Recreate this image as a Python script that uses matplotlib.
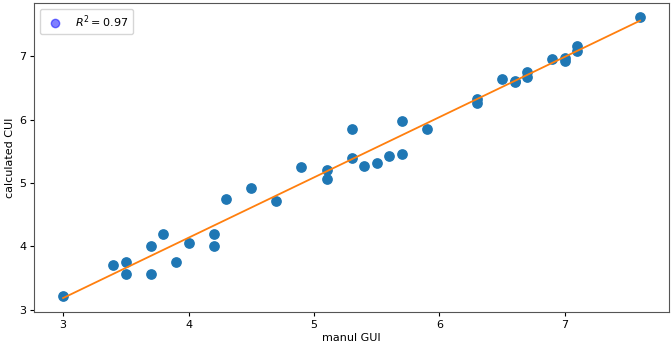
import numpy as np
import matplotlib
matplotlib.use('Agg')
import matplotlib.pyplot as plt

# manual vs calculated values
manual_gui = [3.0, 3.4, 3.5, 3.5, 3.7, 3.7, 3.8, 3.9, 4.0, 4.2, 4.2, 4.3, 4.5, 4.7,
              4.9, 5.1, 5.1, 5.3, 5.3, 5.4, 5.5, 5.6, 5.7, 5.7, 5.9, 6.3, 6.3,
              6.5, 6.6, 6.6, 6.7, 6.7, 6.9, 7.0, 7.0, 7.1, 7.1, 7.6]
calc_cui = [3.22, 3.70, 3.745, 3.56, 4.01, 3.56, 4.19, 3.745, 4.05, 4.19, 4.01, 4.74,
            4.92, 4.71, 5.26, 5.21, 5.06, 5.86, 5.40, 5.27, 5.32, 5.43, 5.98, 5.46,
            5.85, 6.32, 6.27, 6.64, 6.61, 6.59, 6.76, 6.67, 6.96, 6.97, 6.93,
            7.17, 7.09, 7.62]
r2_label = r'$R^2 = 0.97$'

x = np.array(manual_gui)
y = np.array(calc_cui)
slope, intercept = np.polyfit(x, y, 1)
xs = np.sort(x)

fig = plt.figure(figsize=(6.71, 3.46), dpi=100)
ax = fig.add_axes([0.051, 0.098, 0.946, 0.893])

ax.scatter(x, y, color='C0', s=45, zorder=2)
ax.plot(xs, slope * xs + intercept, color='C1', lw=1.3, zorder=3)
ax.scatter([], [], color='blue', alpha=0.5, label=r2_label)

ax.set_xlabel('manul GUI', fontsize=8, labelpad=2)
ax.set_ylabel('calculated CUI', fontsize=8, labelpad=3)
ax.tick_params(axis='both', labelsize=8, length=3, pad=2.5)
for sp in ax.spines.values():
    sp.set_color('#555555')
ax.legend(loc='upper left', fontsize=8)

fig.savefig('out.png', dpi=100)
